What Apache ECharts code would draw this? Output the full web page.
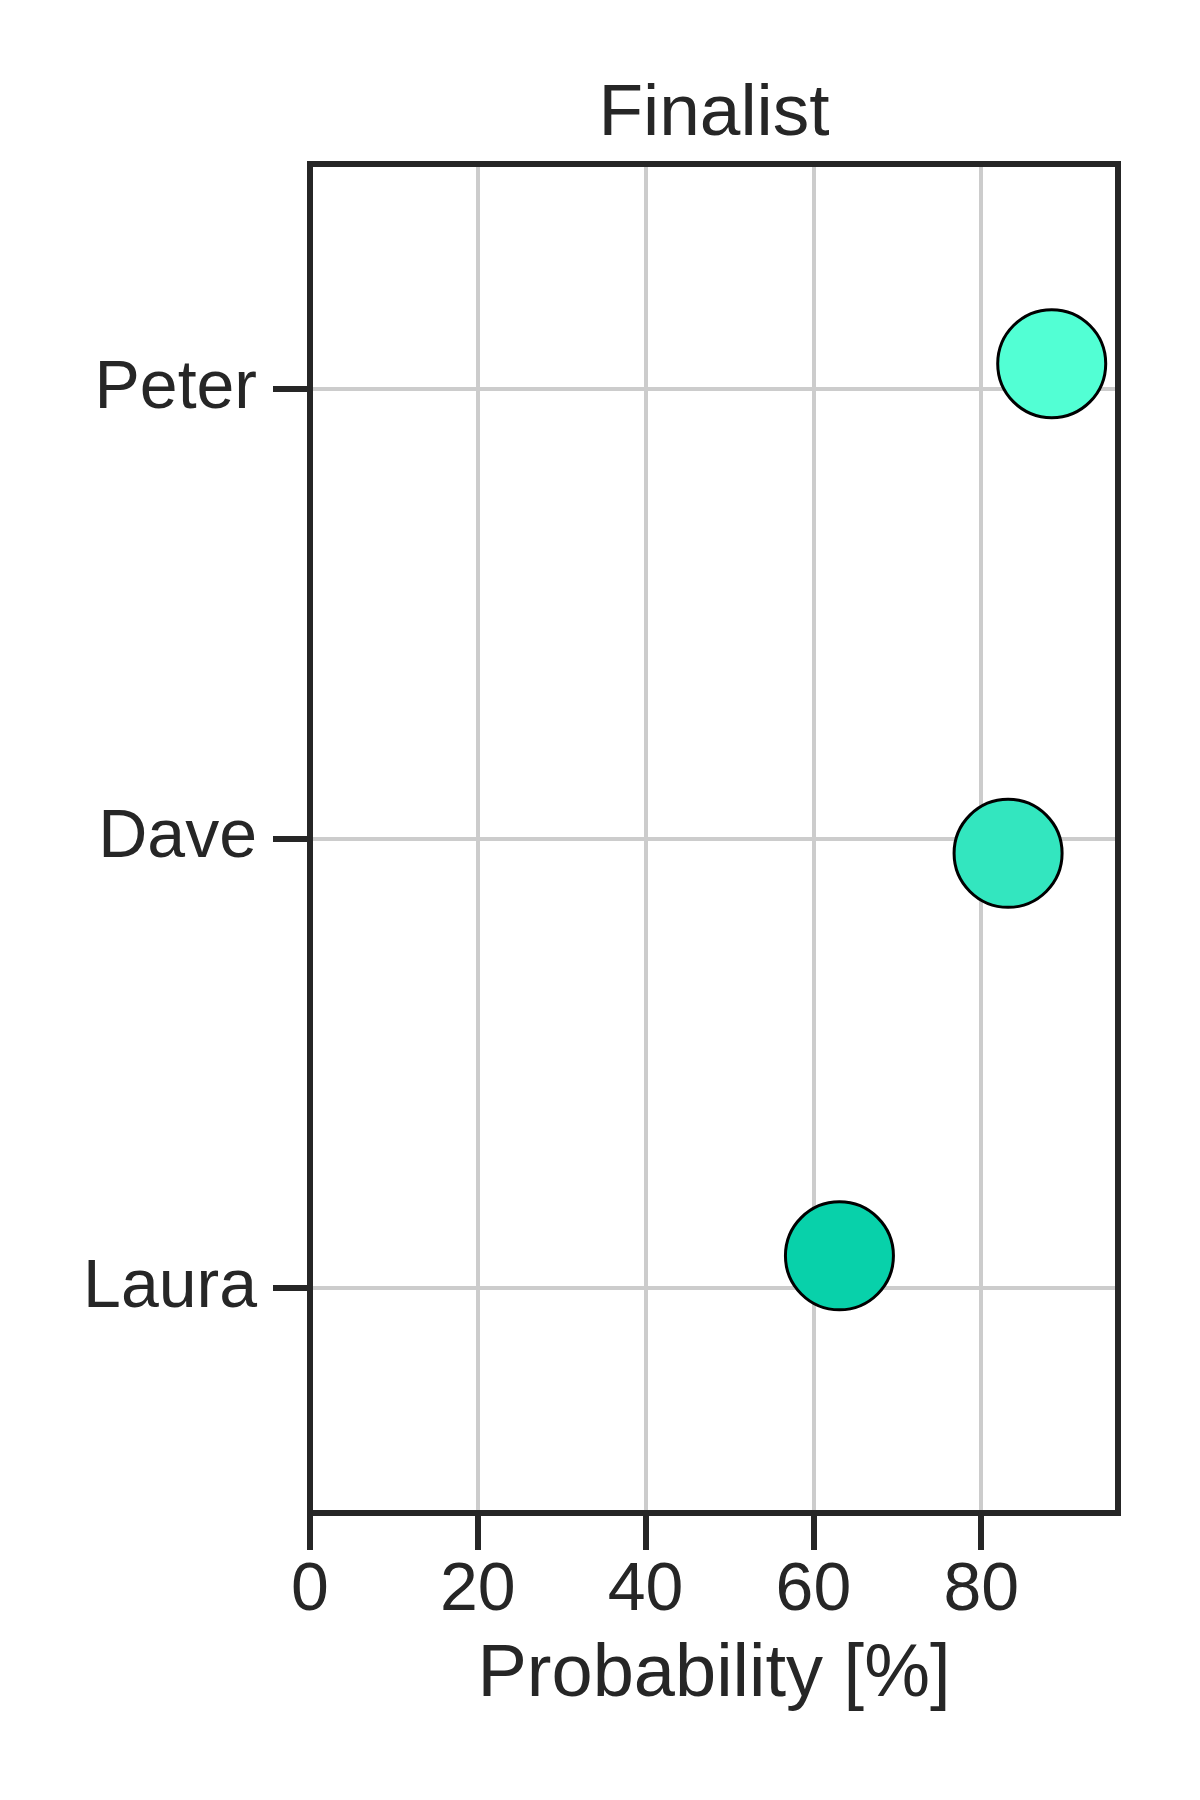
<!DOCTYPE html>
<html>
<head>
<meta charset="utf-8">
<script src="https://cdn.jsdelivr.net/npm/echarts@6/dist/echarts.min.js"></script>
<style>html,body{margin:0;padding:0;background:#fff}#c{width:1200px;height:1800px}</style>
</head>
<body>
<div id="c"></div>
<script>
const names = ['Peter', 'Dave', 'Laura'];
const probability = [88.4, 83.2, 63.1];
const jitter = [-0.056, 0.033, -0.072];
const colors = ['#52FFD4', '#33E6BF', '#08D1AA'];
const xTicks = [0, 20, 40, 60, 80];
const yTicks = [0, 1, 2];

const FONT = '"Liberation Sans", Arial, sans-serif';
const INK = '#262626';

const chart = echarts.init(document.getElementById('c'), null, {renderer: 'canvas'});
chart.setOption({
  backgroundColor: '#ffffff',
  animation: false,
  title: {
    text: 'Finalist',
    left: 714, top: 78, padding: 0, textAlign: 'center',
    textStyle: {fontFamily: FONT, fontSize: 73, fontWeight: 'normal', color: INK}
  },
  grid: {
    left: 310, right: 82, top: 164, bottom: 287,
    show: true, borderColor: INK, borderWidth: 6, z: 10,
    backgroundColor: 'transparent'
  },
  xAxis: {
    type: 'value', min: 0, max: 96.3,
    name: 'Probability [%]', nameLocation: 'middle', nameGap: 126,
    nameTextStyle: {fontFamily: FONT, fontSize: 74, color: INK},
    axisLine: {show: false, onZero: false},
    axisTick: {show: true, length: 37, customValues: xTicks, lineStyle: {color: INK, width: 6}},
    axisLabel: {customValues: xTicks, margin: 44, fontFamily: FONT, fontSize: 68, color: INK},
    splitLine: {show: true, lineStyle: {color: '#cccccc', width: 4}}
  },
  yAxis: {
    type: 'value', min: -0.5, max: 2.5, inverse: true,
    axisLine: {show: false, onZero: false},
    axisTick: {show: true, length: 37, customValues: yTicks, lineStyle: {color: INK, width: 6}},
    axisLabel: {customValues: yTicks, margin: 53, fontFamily: FONT, fontSize: 68, color: INK,
      formatter: v => names[Math.round(v)] || ''},
    splitLine: {show: true, lineStyle: {color: '#cccccc', width: 4}}
  },
  series: [{
    type: 'scatter',
    symbol: 'circle',
    symbolSize: 108,
    data: names.map((n, i) => ({
      value: [probability[i], i + jitter[i]],
      itemStyle: {color: colors[i], opacity: 1, borderColor: '#000000', borderWidth: 3}
    }))
  }]
});
</script>
</body>
</html>
